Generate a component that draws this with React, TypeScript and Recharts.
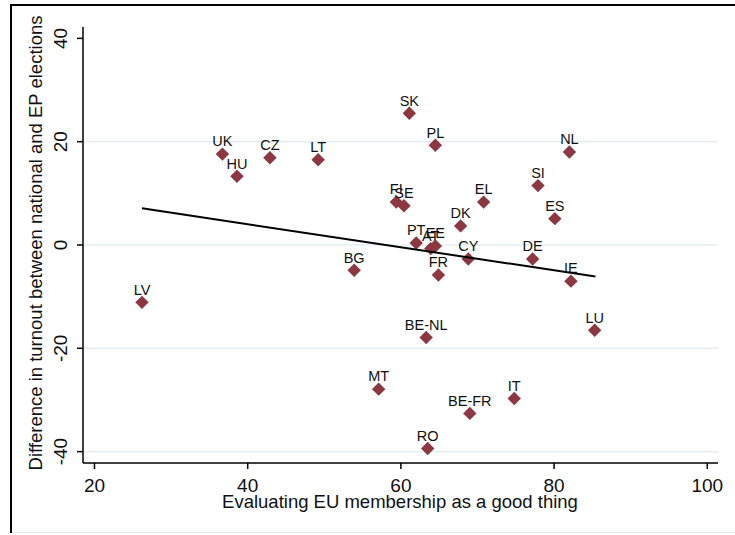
import { ReferenceLine, Scatter, ScatterChart, XAxis, YAxis } from 'recharts';

const countries = ['LV', 'UK', 'HU', 'CZ', 'LT', 'SK', 'PL', 'NL', 'SI', 'ES', 'EL', 'FI', 'SE', 'DK', 'PT', 'AT', 'EE', 'CY', 'FR', 'DE', 'IE', 'BG', 'LU', 'BE-NL', 'MT', 'IT', 'BE-FR', 'RO'];
const euGood = [26.2, 36.7, 38.6, 42.9, 49.2, 61.1, 64.5, 82.0, 77.9, 80.1, 70.8, 59.4, 60.4, 67.8, 62.0, 63.9, 64.5, 68.8, 64.9, 77.2, 82.2, 53.9, 85.3, 63.3, 57.1, 74.8, 69.0, 63.5];
const turnoutDiff = [-11.1, 17.6, 13.3, 16.9, 16.5, 25.5, 19.3, 18.0, 11.5, 5.1, 8.3, 8.3, 7.6, 3.7, 0.4, -0.7, -0.2, -2.7, -5.8, -2.7, -7.0, -4.9, -16.5, -17.9, -27.9, -29.7, -32.6, -39.4];

const fitX = [26.2, 85.4];
const fitY = [7.1, -6.1];

const xTicks = [20, 40, 60, 80, 100];
const yTicks = [-40, -20, 0, 20, 40];
const gridValues = [-40, -20, 0, 20];

const points = countries.map((name, i) => ({ name, x: euGood[i], y: turnoutDiff[i] }));
const fitLine = fitX.map((x, i) => ({ x, y: fitY[i] }));

const FONT = '"Liberation Sans", Arial, sans-serif';
const MARKER = '#8c3741';

const Diamond = (props: any) => {
  const { cx, cy, payload } = props;
  const r = 6.7;
  return (
    <g>
      <polygon points={`${cx},${cy - r} ${cx + r},${cy} ${cx},${cy + r} ${cx - r},${cy}`} fill={MARKER} />
      <text x={cx} y={cy - 7.7} textAnchor="middle" fontFamily={FONT} fontSize={14.5} fill="#111">
        {payload.name}
      </text>
    </g>
  );
};

const XTick = (props: any) => {
  const { x, payload } = props;
  return (
    <text x={x} y={492} textAnchor="middle" fontFamily={FONT} fontSize={19} fill="#111">
      {payload.value}
    </text>
  );
};

const YTick = (props: any) => {
  const { y, payload } = props;
  return (
    <text x={67} y={y} transform={`rotate(-90, 67, ${y})`} textAnchor="middle" fontFamily={FONT} fontSize={19} fill="#111">
      {payload.value}
    </text>
  );
};

export default function App() {
  return (
    <div style={{ position: 'absolute', left: 0, top: 0, width: 735, height: 535, background: '#fff' }}>
      <div style={{ position: 'absolute', left: 10, top: 4, width: 725, height: 2, background: '#000' }} />
      <div style={{ position: 'absolute', left: 10, top: 4, width: 2, height: 529, background: '#000' }} />
      <div style={{ position: 'absolute', left: 12, top: 532, width: 723, height: 1, background: '#e4eeee' }} />
      <div style={{ position: 'absolute', left: 0, top: 0 }}>
        <ScatterChart width={735} height={535} margin={{ top: 27, right: 17, bottom: 0, left: 0 }}>
          {gridValues.map((v) => (
            <ReferenceLine key={v} y={v} stroke="#e4eef0" strokeWidth={1.5} />
          ))}
          <XAxis
            type="number"
            dataKey="x"
            domain={[18.5, 101.4]}
            ticks={xTicks}
            height={72}
            allowDataOverflow
            stroke="#000"
            strokeWidth={1.5}
            tickSize={6}
            tick={<XTick />}
          />
          <YAxis
            type="number"
            dataKey="y"
            domain={[-42.2, 42.2]}
            ticks={yTicks}
            width={83}
            allowDataOverflow
            stroke="#000"
            strokeWidth={1.5}
            tickSize={6}
            tick={<YTick />}
          />
          <Scatter data={points} shape={<Diamond />} isAnimationActive={false} />
          <Scatter
            data={fitLine}
            line={{ stroke: '#000', strokeWidth: 2 }}
            shape={() => <g />}
            isAnimationActive={false}
          />
        </ScatterChart>
      </div>
      <svg width={735} height={535} style={{ position: 'absolute', left: 0, top: 0, pointerEvents: 'none' }}>
        <text x={400} y={508} textAnchor="middle" fontFamily={FONT} fontSize={18.5} fill="#111">
          Evaluating EU membership as a good thing
        </text>
        <text
          x={42}
          y={243}
          transform="rotate(-90, 42, 243)"
          textAnchor="middle"
          fontFamily={FONT}
          fontSize={18.5}
          fill="#111"
        >
          Difference in turnout between national and EP elections
        </text>
      </svg>
    </div>
  );
}
